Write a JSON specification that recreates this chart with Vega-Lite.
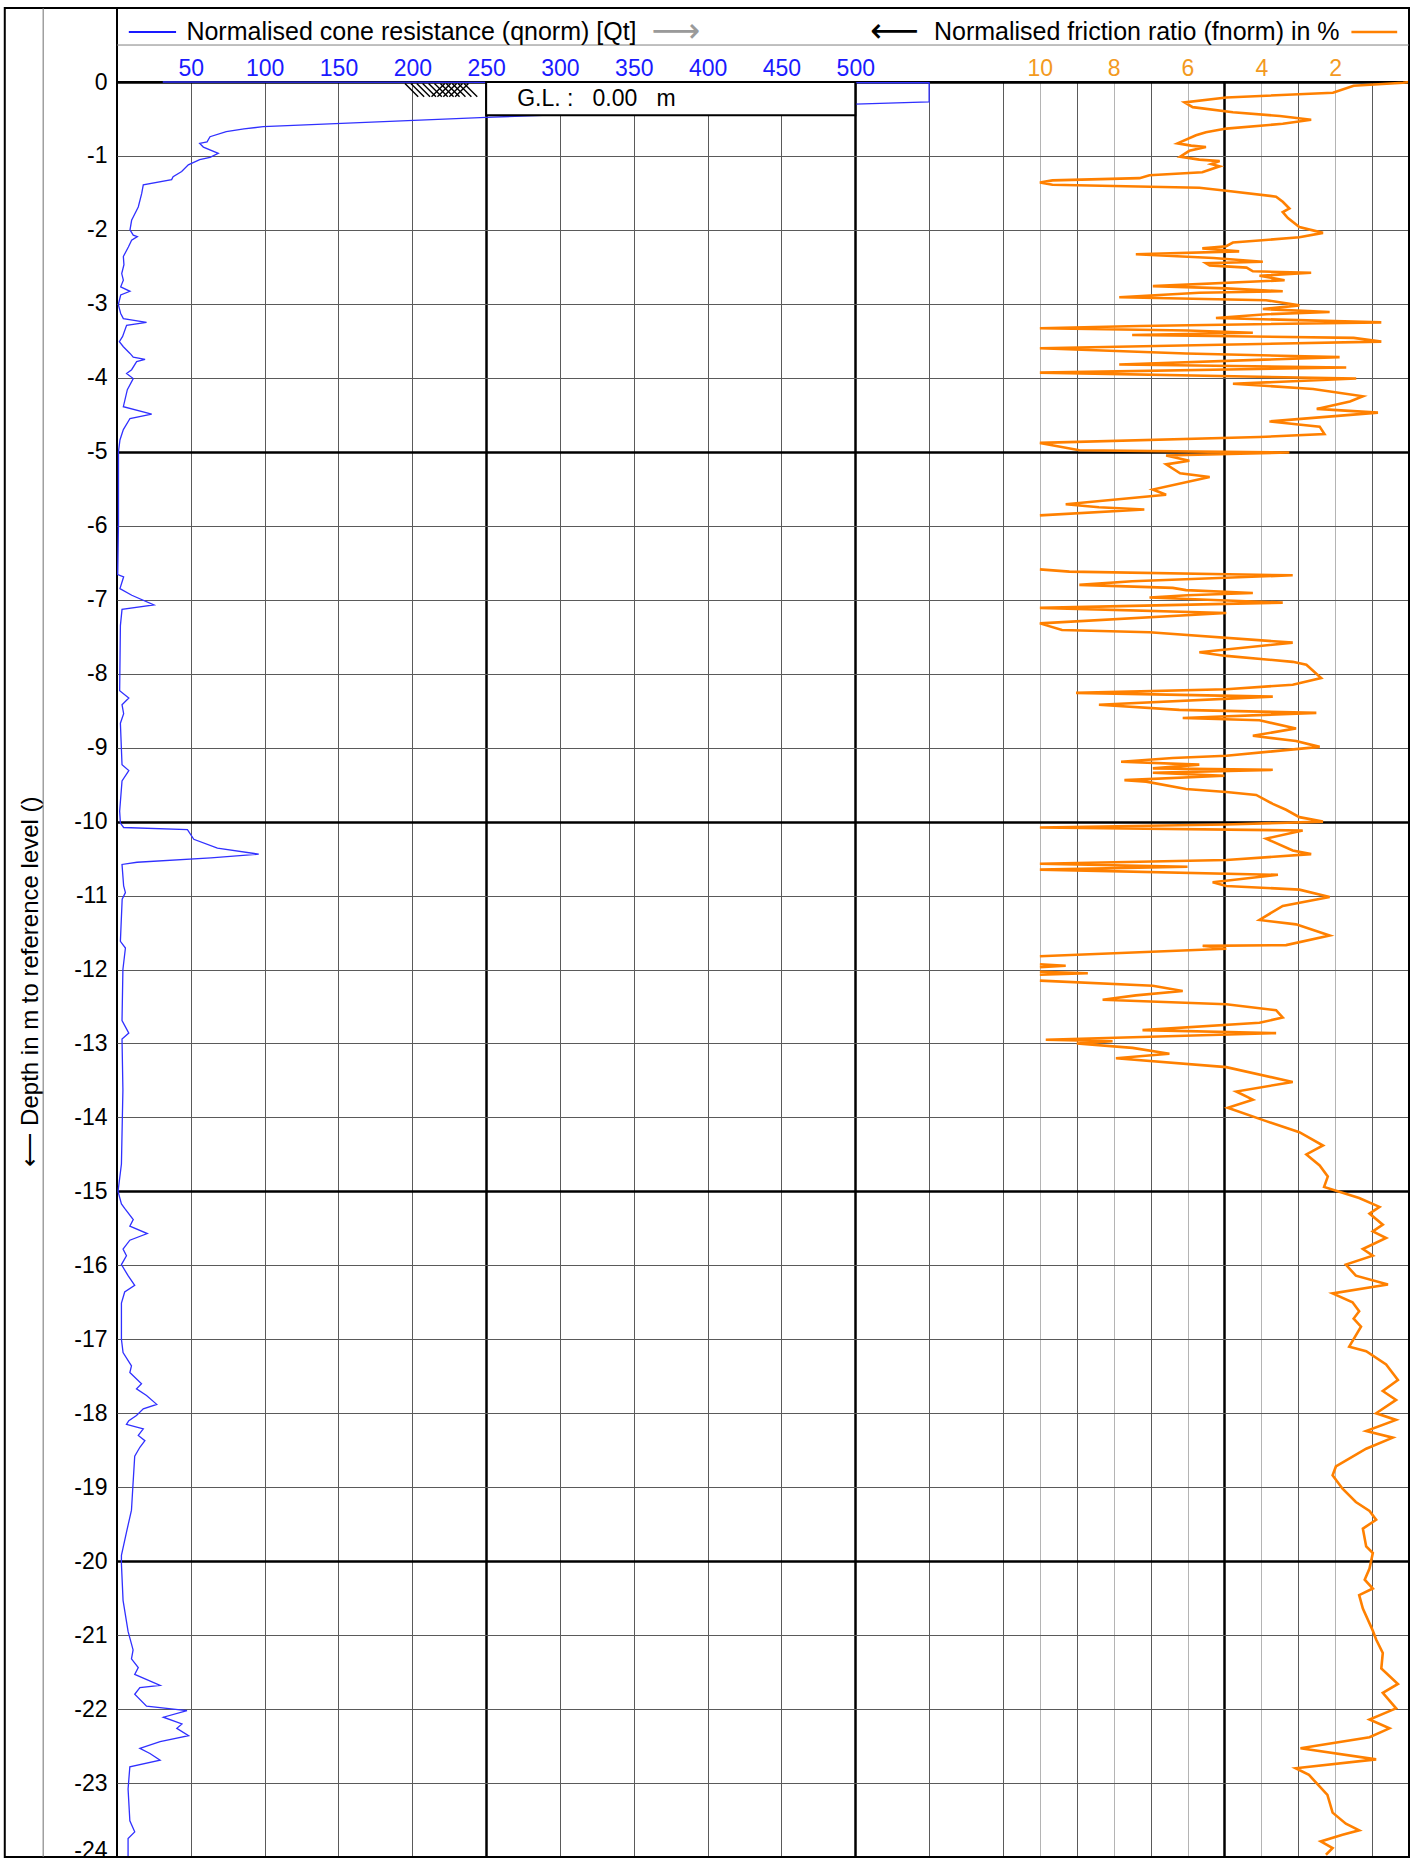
{
  "$schema": "https://vega.github.io/schema/vega-lite/v6.json",
  "width": 1292,
  "height": 1775,
  "autosize": {"type": "none"},
  "padding": {"left": 117, "top": 82, "right": 6, "bottom": 8},
  "background": "white",
  "config": {
    "view": {"stroke": "#000000", "strokeWidth": 2},
    "font": "Liberation Sans",
    "text": {"font": "Liberation Sans"}
  },
  "datasets": {
    "one": [{}],
    "cone": [
      {"d":0,"q":31},{"d":-0.01,"q":550},{"d":-0.27,"q":550},{"d":-0.30,"q":500},{"d":-0.478,"q":250},{"d":-0.604,"q":99},{"d":-0.635,"q":86},{"d":-0.67,"q":74},{"d":-0.74,"q":63},{"d":-0.81,"q":61},{"d":-0.83,"q":56},{"d":-0.88,"q":58.5},{"d":-0.964,"q":68.6},{"d":-1.02,"q":63},{"d":-1.05,"q":56},{"d":-1.12,"q":48.3},{"d":-1.21,"q":43.8},{"d":-1.28,"q":38},{"d":-1.32,"q":37},{"d":-1.39,"q":17.8},{"d":-1.51,"q":16.7},{"d":-1.69,"q":14.4},{"d":-1.87,"q":9.9},{"d":-2.0,"q":8.8},{"d":-2.07,"q":11},{"d":-2.09,"q":13.8},{"d":-2.14,"q":9.9},{"d":-2.23,"q":7.7},{"d":-2.36,"q":4.3},{"d":-2.47,"q":4.7},{"d":-2.59,"q":3.2},{"d":-2.68,"q":4.3},{"d":-2.77,"q":2.5},{"d":-2.83,"q":8.8},{"d":-2.88,"q":2.5},{"d":-3.01,"q":0.9},{"d":-3.13,"q":2.5},{"d":-3.20,"q":4.3},{"d":-3.25,"q":20},{"d":-3.29,"q":6.5},{"d":-3.44,"q":3.8},{"d":-3.51,"q":1.6},{"d":-3.58,"q":4.3},{"d":-3.67,"q":8.8},{"d":-3.72,"q":11},{"d":-3.75,"q":19},{"d":-3.78,"q":13.3},{"d":-3.89,"q":9.9},{"d":-3.94,"q":6.5},{"d":-4.01,"q":11},{"d":-4.16,"q":7},{"d":-4.39,"q":4.3},{"d":-4.49,"q":23.5},{"d":-4.55,"q":8.8},{"d":-4.70,"q":4.3},{"d":-4.84,"q":2},{"d":-5.0,"q":1},{"d":-5.97,"q":1},{"d":-6.66,"q":0.5},{"d":-6.69,"q":4.5},{"d":-6.85,"q":2},{"d":-6.94,"q":10},{"d":-7.07,"q":25},{"d":-7.13,"q":3.4},{"d":-7.35,"q":2.3},{"d":-8.23,"q":1.8},{"d":-8.33,"q":8},{"d":-8.42,"q":3.4},{"d":-8.54,"q":4.5},{"d":-8.67,"q":2.3},{"d":-9.23,"q":3.4},{"d":-9.31,"q":8},{"d":-9.45,"q":3.4},{"d":-9.86,"q":1.8},{"d":-10.02,"q":2.3},{"d":-10.08,"q":4.5},{"d":-10.11,"q":47.7},{"d":-10.24,"q":52},{"d":-10.36,"q":68},{"d":-10.44,"q":96},{"d":-10.49,"q":63.6},{"d":-10.55,"q":13.6},{"d":-10.58,"q":3.4},{"d":-10.87,"q":4.5},{"d":-10.96,"q":5.7},{"d":-11.05,"q":3.5},{"d":-11.62,"q":2.3},{"d":-11.71,"q":5.7},{"d":-12.0,"q":4},{"d":-12.69,"q":3.4},{"d":-12.86,"q":8},{"d":-12.94,"q":3.4},{"d":-13.63,"q":4},{"d":-14.63,"q":3},{"d":-15.0,"q":0.7},{"d":-15.17,"q":3},{"d":-15.23,"q":5.2},{"d":-15.38,"q":11},{"d":-15.47,"q":8.7},{"d":-15.57,"q":20.5},{"d":-15.66,"q":8.7},{"d":-15.78,"q":4.1},{"d":-15.87,"q":6.4},{"d":-15.99,"q":3},{"d":-16.14,"q":7.5},{"d":-16.27,"q":12},{"d":-16.36,"q":5.2},{"d":-16.51,"q":3},{"d":-17.0,"q":3},{"d":-17.18,"q":4.1},{"d":-17.36,"q":9.8},{"d":-17.45,"q":8.7},{"d":-17.6,"q":16.6},{"d":-17.67,"q":13.2},{"d":-17.76,"q":20},{"d":-17.88,"q":26.9},{"d":-17.94,"q":17.8},{"d":-18.03,"q":13.2},{"d":-18.1,"q":8},{"d":-18.15,"q":6.4},{"d":-18.21,"q":17.8},{"d":-18.3,"q":14.4},{"d":-18.37,"q":18.9},{"d":-18.46,"q":15.5},{"d":-18.58,"q":12},{"d":-18.94,"q":10.9},{"d":-19.31,"q":9.8},{"d":-19.61,"q":6.4},{"d":-19.92,"q":3},{"d":-20.04,"q":3},{"d":-20.53,"q":4.1},{"d":-20.95,"q":7.5},{"d":-21.2,"q":10.9},{"d":-21.32,"q":9.8},{"d":-21.44,"q":14.4},{"d":-21.53,"q":12},{"d":-21.68,"q":29.2},{"d":-21.71,"q":15.5},{"d":-21.8,"q":12},{"d":-21.96,"q":20},{"d":-22.02,"q":47.4},{"d":-22.11,"q":31.4},{"d":-22.2,"q":44},{"d":-22.26,"q":40.5},{"d":-22.36,"q":48.5},{"d":-22.44,"q":29.2},{"d":-22.53,"q":15.5},{"d":-22.6,"q":22.3},{"d":-22.69,"q":29.2},{"d":-22.78,"q":8.7},{"d":-23.08,"q":7.5},{"d":-23.51,"q":8.7},{"d":-23.66,"q":12},{"d":-23.75,"q":7.5},{"d":-24.0,"q":7.5}
    ],
    "fric": [
      {"d":0,"f":0,"s":"a"},{"d":-0.01,"f":0.16,"s":"a"},{"d":-0.05,"f":1.5,"s":"a"},{"d":-0.145,"f":2.06,"s":"a"},{"d":-0.21,"f":4.95,"s":"a"},{"d":-0.275,"f":6.08,"s":"a"},{"d":-0.34,"f":5.86,"s":"a"},{"d":-0.41,"f":4.77,"s":"a"},{"d":-0.46,"f":3.5,"s":"a"},{"d":-0.51,"f":2.65,"s":"a"},{"d":-0.565,"f":3.42,"s":"a"},{"d":-0.63,"f":4.95,"s":"a"},{"d":-0.68,"f":5.5,"s":"a"},{"d":-0.72,"f":5.77,"s":"a"},{"d":-0.83,"f":6.27,"s":"a"},{"d":-0.86,"f":5.9,"s":"a"},{"d":-0.88,"f":5.5,"s":"a"},{"d":-0.93,"f":5.95,"s":"a"},{"d":-1.01,"f":6.2,"s":"a"},{"d":-1.05,"f":5.68,"s":"a"},{"d":-1.07,"f":5.13,"s":"a"},{"d":-1.11,"f":5.36,"s":"a"},{"d":-1.14,"f":5.13,"s":"a"},{"d":-1.22,"f":5.6,"s":"a"},{"d":-1.26,"f":7.03,"s":"a"},{"d":-1.30,"f":7.3,"s":"a"},{"d":-1.33,"f":9.66,"s":"a"},{"d":-1.36,"f":10,"s":"a"},{"d":-1.39,"f":9.66,"s":"a"},{"d":-1.43,"f":5.68,"s":"a"},{"d":-1.47,"f":4.95,"s":"a"},{"d":-1.55,"f":3.6,"s":"a"},{"d":-1.62,"f":3.42,"s":"a"},{"d":-1.71,"f":3.24,"s":"a"},{"d":-1.76,"f":3.42,"s":"a"},{"d":-1.84,"f":3.28,"s":"a"},{"d":-1.96,"f":2.97,"s":"a"},{"d":-2.04,"f":2.33,"s":"a"},{"d":-2.10,"f":2.97,"s":"a"},{"d":-2.17,"f":4.77,"s":"a"},{"d":-2.22,"f":4.95,"s":"a"},{"d":-2.25,"f":5.6,"s":"a"},{"d":-2.29,"f":4.6,"s":"a"},{"d":-2.33,"f":7.4,"s":"a"},{"d":-2.38,"f":5.3,"s":"a"},{"d":-2.43,"f":3.96,"s":"a"},{"d":-2.45,"f":5.5,"s":"a"},{"d":-2.48,"f":5.4,"s":"a"},{"d":-2.51,"f":4.4,"s":"a"},{"d":-2.56,"f":4.23,"s":"a"},{"d":-2.58,"f":2.65,"s":"a"},{"d":-2.62,"f":4.05,"s":"a"},{"d":-2.68,"f":3.37,"s":"a"},{"d":-2.76,"f":6.94,"s":"a"},{"d":-2.79,"f":4.95,"s":"a"},{"d":-2.83,"f":3.42,"s":"a"},{"d":-2.85,"f":5.68,"s":"a"},{"d":-2.91,"f":7.85,"s":"a"},{"d":-2.95,"f":3.87,"s":"a"},{"d":-3.02,"f":2.97,"s":"a"},{"d":-3.07,"f":3.96,"s":"a"},{"d":-3.11,"f":2.15,"s":"a"},{"d":-3.14,"f":3.87,"s":"a"},{"d":-3.19,"f":5.23,"s":"a"},{"d":-3.25,"f":0.75,"s":"a"},{"d":-3.30,"f":7.3,"s":"a"},{"d":-3.33,"f":10,"s":"a"},{"d":-3.36,"f":6.0,"s":"a"},{"d":-3.39,"f":4.23,"s":"a"},{"d":-3.42,"f":7.5,"s":"a"},{"d":-3.46,"f":1.5,"s":"a"},{"d":-3.51,"f":0.75,"s":"a"},{"d":-3.60,"f":10,"s":"a"},{"d":-3.67,"f":6.04,"s":"a"},{"d":-3.72,"f":1.88,"s":"a"},{"d":-3.82,"f":7.85,"s":"a"},{"d":-3.86,"f":1.7,"s":"a"},{"d":-3.93,"f":10,"s":"a"},{"d":-4.01,"f":1.43,"s":"a"},{"d":-4.08,"f":4.77,"s":"a"},{"d":-4.15,"f":2.6,"s":"a"},{"d":-4.25,"f":1.25,"s":"a"},{"d":-4.32,"f":1.6,"s":"a"},{"d":-4.42,"f":2.5,"s":"a"},{"d":-4.47,"f":0.84,"s":"a"},{"d":-4.59,"f":3.78,"s":"a"},{"d":-4.66,"f":2.42,"s":"a"},{"d":-4.76,"f":2.29,"s":"a"},{"d":-4.80,"f":4.05,"s":"a"},{"d":-4.88,"f":10,"s":"a"},{"d":-4.98,"f":8.93,"s":"a"},{"d":-5.01,"f":3.24,"s":"a"},{"d":-5.05,"f":6.58,"s":"a"},{"d":-5.12,"f":5.95,"s":"a"},{"d":-5.17,"f":6.58,"s":"a"},{"d":-5.29,"f":6.2,"s":"a"},{"d":-5.34,"f":5.4,"s":"a"},{"d":-5.51,"f":6.94,"s":"a"},{"d":-5.58,"f":6.58,"s":"a"},{"d":-5.71,"f":9.3,"s":"a"},{"d":-5.75,"f":8.4,"s":"a"},{"d":-5.78,"f":7.17,"s":"a"},{"d":-5.86,"f":10,"s":"a"},
      {"d":-6.59,"f":10,"s":"b"},{"d":-6.62,"f":9.2,"s":"b"},{"d":-6.67,"f":3.15,"s":"b"},{"d":-6.75,"f":7.5,"s":"b"},{"d":-6.8,"f":8.93,"s":"b"},{"d":-6.84,"f":6.4,"s":"b"},{"d":-6.87,"f":6.04,"s":"b"},{"d":-6.91,"f":4.23,"s":"b"},{"d":-6.94,"f":6,"s":"b"},{"d":-6.97,"f":7.03,"s":"b"},{"d":-7.04,"f":3.42,"s":"b"},{"d":-7.11,"f":10,"s":"b"},{"d":-7.18,"f":4.95,"s":"b"},{"d":-7.32,"f":10,"s":"b"},{"d":-7.41,"f":9.4,"s":"b"},{"d":-7.44,"f":7.03,"s":"b"},{"d":-7.58,"f":3.15,"s":"b"},{"d":-7.71,"f":5.68,"s":"b"},{"d":-7.76,"f":4.95,"s":"b"},{"d":-7.84,"f":3.15,"s":"b"},{"d":-7.88,"f":2.78,"s":"b"},{"d":-8.06,"f":2.38,"s":"b"},{"d":-8.15,"f":3.15,"s":"b"},{"d":-8.21,"f":4.95,"s":"b"},{"d":-8.26,"f":9.02,"s":"b"},{"d":-8.31,"f":3.69,"s":"b"},{"d":-8.42,"f":8.4,"s":"b"},{"d":-8.49,"f":6.22,"s":"b"},{"d":-8.53,"f":2.51,"s":"b"},{"d":-8.60,"f":6.13,"s":"b"},{"d":-8.63,"f":4.05,"s":"b"},{"d":-8.74,"f":3.06,"s":"b"},{"d":-8.84,"f":4.23,"s":"b"},{"d":-8.91,"f":3.06,"s":"b"},{"d":-8.99,"f":2.42,"s":"b"},{"d":-9.11,"f":4.95,"s":"b"},{"d":-9.14,"f":6.4,"s":"b"},{"d":-9.19,"f":7.8,"s":"b"},{"d":-9.23,"f":5.68,"s":"b"},{"d":-9.28,"f":6.94,"s":"b"},{"d":-9.30,"f":3.69,"s":"b"},{"d":-9.34,"f":6.94,"s":"b"},{"d":-9.38,"f":5.0,"s":"b"},{"d":-9.44,"f":7.71,"s":"b"},{"d":-9.46,"f":7.12,"s":"b"},{"d":-9.56,"f":6.04,"s":"b"},{"d":-9.60,"f":4.95,"s":"b"},{"d":-9.64,"f":4.14,"s":"b"},{"d":-9.76,"f":3.69,"s":"b"},{"d":-9.84,"f":3.33,"s":"b"},{"d":-9.94,"f":2.97,"s":"b"},{"d":-10.0,"f":2.33,"s":"b"},{"d":-10.04,"f":4.95,"s":"b"},{"d":-10.08,"f":10,"s":"b"},{"d":-10.12,"f":2.88,"s":"b"},{"d":-10.23,"f":3.87,"s":"b"},{"d":-10.39,"f":3.15,"s":"b"},{"d":-10.44,"f":2.65,"s":"b"},{"d":-10.52,"f":4.95,"s":"b"},{"d":-10.57,"f":10,"s":"b"},{"d":-10.61,"f":6,"s":"b"},{"d":-10.65,"f":10,"s":"b"},{"d":-10.72,"f":3.55,"s":"b"},{"d":-10.82,"f":5.32,"s":"b"},{"d":-10.87,"f":4.95,"s":"b"},{"d":-10.92,"f":2.97,"s":"b"},{"d":-11.02,"f":2.15,"s":"b"},{"d":-11.14,"f":3.42,"s":"b"},{"d":-11.33,"f":4.05,"s":"b"},{"d":-11.39,"f":3.06,"s":"b"},{"d":-11.54,"f":2.15,"s":"b"},{"d":-11.67,"f":3.33,"s":"b"},{"d":-11.68,"f":5.59,"s":"b"},{"d":-11.72,"f":4.95,"s":"b"},{"d":-11.82,"f":10,"s":"b"},
      {"d":-11.93,"f":10,"s":"c"},{"d":-11.95,"f":9.3,"s":"c"},{"d":-11.97,"f":10,"s":"c"},
      {"d":-12.03,"f":10,"s":"d"},{"d":-12.05,"f":8.7,"s":"d"},{"d":-12.07,"f":10,"s":"d"},
      {"d":-12.15,"f":10,"s":"e"},{"d":-12.22,"f":6.94,"s":"e"},{"d":-12.29,"f":6.13,"s":"e"},{"d":-12.35,"f":7.4,"s":"e"},{"d":-12.41,"f":8.3,"s":"e"},{"d":-12.47,"f":4.95,"s":"e"},{"d":-12.55,"f":3.6,"s":"e"},{"d":-12.65,"f":3.42,"s":"e"},{"d":-12.72,"f":4.05,"s":"e"},{"d":-12.82,"f":7.22,"s":"e"},{"d":-12.86,"f":3.6,"s":"e"},{"d":-12.95,"f":9.84,"s":"e"},{"d":-12.97,"f":8.03,"s":"e"},{"d":-13.0,"f":9.0,"s":"e"},{"d":-13.06,"f":7.49,"s":"e"},{"d":-13.14,"f":6.49,"s":"e"},{"d":-13.2,"f":7.94,"s":"e"},{"d":-13.32,"f":4.95,"s":"e"},{"d":-13.52,"f":3.15,"s":"e"},{"d":-13.65,"f":4.68,"s":"e"},{"d":-13.76,"f":4.23,"s":"e"},{"d":-13.87,"f":4.91,"s":"e"},{"d":-14.05,"f":3.87,"s":"e"},{"d":-14.2,"f":2.97,"s":"e"},{"d":-14.38,"f":2.33,"s":"e"},{"d":-14.5,"f":2.78,"s":"e"},{"d":-14.65,"f":2.42,"s":"e"},{"d":-14.8,"f":2.2,"s":"e"},{"d":-14.94,"f":2.3,"s":"e"},{"d":-15.09,"f":1.35,"s":"e"},{"d":-15.21,"f":0.8,"s":"e"},{"d":-15.3,"f":1.07,"s":"e"},{"d":-15.45,"f":0.71,"s":"e"},{"d":-15.54,"f":0.98,"s":"e"},{"d":-15.63,"f":0.62,"s":"e"},{"d":-15.78,"f":1.25,"s":"e"},{"d":-15.87,"f":0.98,"s":"e"},{"d":-15.99,"f":1.71,"s":"e"},{"d":-16.14,"f":1.44,"s":"e"},{"d":-16.26,"f":0.57,"s":"e"},{"d":-16.38,"f":2.07,"s":"e"},{"d":-16.5,"f":1.53,"s":"e"},{"d":-16.62,"f":1.35,"s":"e"},{"d":-16.72,"f":1.5,"s":"e"},{"d":-16.83,"f":1.3,"s":"e"},{"d":-17.1,"f":1.62,"s":"e"},{"d":-17.16,"f":1.16,"s":"e"},{"d":-17.34,"f":0.62,"s":"e"},{"d":-17.55,"f":0.3,"s":"e"},{"d":-17.7,"f":0.71,"s":"e"},{"d":-17.82,"f":0.35,"s":"e"},{"d":-18.0,"f":0.89,"s":"e"},{"d":-18.09,"f":0.35,"s":"e"},{"d":-18.24,"f":1.16,"s":"e"},{"d":-18.33,"f":0.44,"s":"e"},{"d":-18.48,"f":1.16,"s":"e"},{"d":-18.72,"f":1.98,"s":"e"},{"d":-18.84,"f":2.07,"s":"e"},{"d":-19.02,"f":1.8,"s":"e"},{"d":-19.2,"f":1.44,"s":"e"},{"d":-19.32,"f":1.07,"s":"e"},{"d":-19.44,"f":0.89,"s":"e"},{"d":-19.56,"f":1.25,"s":"e"},{"d":-19.8,"f":1.16,"s":"e"},{"d":-19.89,"f":0.98,"s":"e"},{"d":-20.1,"f":1.07,"s":"e"},{"d":-20.25,"f":1.2,"s":"e"},{"d":-20.37,"f":0.98,"s":"e"},{"d":-20.46,"f":1.35,"s":"e"},{"d":-20.64,"f":1.25,"s":"e"},{"d":-20.94,"f":0.98,"s":"e"},{"d":-21.06,"f":0.89,"s":"e"},{"d":-21.24,"f":0.71,"s":"e"},{"d":-21.45,"f":0.75,"s":"e"},{"d":-21.66,"f":0.3,"s":"e"},{"d":-21.78,"f":0.71,"s":"e"},{"d":-21.99,"f":0.35,"s":"e"},{"d":-22.14,"f":1.07,"s":"e"},{"d":-22.26,"f":0.53,"s":"e"},{"d":-22.38,"f":1.07,"s":"e"},{"d":-22.53,"f":2.94,"s":"e"},{"d":-22.68,"f":0.89,"s":"e"},{"d":-22.8,"f":3.07,"s":"e"},{"d":-22.89,"f":2.71,"s":"e"},{"d":-23.16,"f":2.21,"s":"e"},{"d":-23.4,"f":2.07,"s":"e"},{"d":-23.55,"f":1.71,"s":"e"},{"d":-23.64,"f":1.35,"s":"e"},{"d":-23.7,"f":1.8,"s":"e"},{"d":-23.79,"f":2.39,"s":"e"},{"d":-23.88,"f":2.07,"s":"e"},{"d":-23.97,"f":2.25,"s":"e"}
    ],
    "hatch": [
      {"a":195,"b":204},{"a":199,"b":208},{"a":203,"b":212},{"a":207,"b":216},{"a":211,"b":220},{"a":215,"b":224},{"a":219,"b":228},{"a":223,"b":232},{"a":227,"b":236},{"a":231,"b":240},{"a":235,"b":244},
      {"a":222,"b":213},{"a":226,"b":217},{"a":230,"b":221},{"a":234,"b":225},{"a":238,"b":229}
    ]
  },
  "layer": [
    {
      "data": {"name": "cone"},
      "mark": {"type": "line", "color": "#3030ff", "strokeWidth": 1.3},
      "encoding": {
        "x": {
          "field": "q", "type": "quantitative",
          "scale": {"domain": [0, 875], "nice": false, "zero": false},
          "axis": {
            "orient": "top", "title": null,
            "values": [50,100,150,200,250,300,350,400,450,500,550,600,650,700,750,800,850],
            "labelExpr": "datum.value <= 500 ? datum.label : ''",
            "grid": true,
            "gridColor": {"condition": {"test": "datum.value % 250 === 0", "value": "#000000"}, "value": "#5a5a5a"},
            "gridWidth": {"condition": {"test": "datum.value % 250 === 0", "value": 2.5}, "value": 1},
            "ticks": false, "tickSize": 0, "domain": false,
            "labelColor": "#1a1aff", "labelFont": "Liberation Sans", "labelFontSize": 23,
            "labelPadding": 14, "labelBaseline": "middle", "labelFlush": false, "labelOverlap": false, "labelBound": false
          }
        },
        "y": {
          "field": "d", "type": "quantitative",
          "scale": {"domain": [-24, 0], "nice": false, "zero": false},
          "axis": {
            "orient": "left",
            "values": [0,-1,-2,-3,-4,-5,-6,-7,-8,-9,-10,-11,-12,-13,-14,-15,-16,-17,-18,-19,-20,-21,-22,-23,-24],
            "labelExpr": "datum.value == 0 ? '0' : '-' + abs(datum.value)",
            "grid": true,
            "gridColor": {"condition": {"test": "datum.value % 5 === 0", "value": "#000000"}, "value": "#5a5a5a"},
            "gridWidth": {"condition": {"test": "datum.value % 5 === 0", "value": 2.5}, "value": 1},
            "ticks": false, "tickSize": 0, "domain": false,
            "labelColor": "#000000", "labelFont": "Liberation Sans", "labelFontSize": 23,
            "labelBaseline": {"condition": {"test": "datum.value === -24", "value": "alphabetic"}, "value": "middle"},
            "labelPadding": 10, "labelOverlap": false, "labelFlush": false, "labelBound": false,
            "title": "⟵  Depth in m to reference level ()",
            "titleX": -87, "titleY": 899, "titleAngle": -90, "titleAlign": "center", "titleBaseline": "middle",
            "titleFont": "Liberation Sans", "titleFontSize": 24, "titleFontWeight": "normal", "titleColor": "#000000"
          }
        },
        "order": {"field": "d", "sort": "descending"}
      }
    },
    {
      "data": {"name": "fric"},
      "mark": {"type": "line", "color": "#ff8000", "strokeWidth": 2.6},
      "encoding": {
        "x": {
          "field": "f", "type": "quantitative",
          "scale": {"domain": [35, 0], "nice": false, "zero": false},
          "axis": {
            "orient": "top", "title": null,
            "values": [2,4,6,8,10],
            "grid": true, "gridColor": "#b4b4b4", "gridWidth": 1,
            "ticks": false, "tickSize": 0, "domain": false,
            "labelColor": "#f39a1e", "labelFont": "Liberation Sans", "labelFontSize": 23,
            "labelPadding": 14, "labelBaseline": "middle", "labelFlush": false, "labelOverlap": false, "labelBound": false
          }
        },
        "y": {"field": "d", "type": "quantitative", "scale": {"domain": [-24, 0], "nice": false, "zero": false}, "axis": null},
        "detail": {"field": "s"},
        "order": {"field": "d", "sort": "descending"}
      }
    },
    {
      "data": {"name": "one"},
      "mark": {"type": "rect", "filled": false, "stroke": "#000000", "strokeWidth": 2},
      "encoding": {
        "x": {"datum": -76, "type": "quantitative", "scale": {"domain": [0, 875], "nice": false, "zero": false}, "axis": null},
        "x2": {"datum": 875},
        "y": {"datum": 1, "type": "quantitative", "scale": {"domain": [-24, 0], "nice": false, "zero": false}, "axis": null},
        "y2": {"datum": -24}
      }
    },
    {
      "data": {"name": "one"},
      "mark": {"type": "rule", "color": "#707070", "strokeWidth": 1},
      "encoding": {
        "x": {"datum": -50, "type": "quantitative", "scale": {"domain": [0, 875], "nice": false, "zero": false}, "axis": null},
        "y": {"datum": 1, "type": "quantitative", "scale": {"domain": [-24, 0], "nice": false, "zero": false}, "axis": null},
        "y2": {"datum": -24}
      }
    },
    {
      "data": {"name": "one"},
      "mark": {"type": "rule", "color": "#000000", "strokeWidth": 2},
      "encoding": {
        "x": {"datum": 0, "type": "quantitative", "scale": {"domain": [0, 875], "nice": false, "zero": false}, "axis": null},
        "y": {"datum": 1, "type": "quantitative", "scale": {"domain": [-24, 0], "nice": false, "zero": false}, "axis": null},
        "y2": {"datum": 0}
      }
    },
    {
      "data": {"name": "one"},
      "mark": {"type": "rule", "color": "#808080", "strokeWidth": 1},
      "encoding": {
        "x": {"datum": 0, "type": "quantitative", "scale": {"domain": [0, 875], "nice": false, "zero": false}, "axis": null},
        "x2": {"datum": 875},
        "y": {"datum": 0.5, "type": "quantitative", "scale": {"domain": [-24, 0], "nice": false, "zero": false}, "axis": null}
      }
    },
    {
      "data": {"name": "one"},
      "mark": {"type": "rect", "fill": "#ffffff", "stroke": "#000000", "strokeWidth": 2},
      "encoding": {
        "x": {"datum": 250, "type": "quantitative", "scale": {"domain": [0, 875], "nice": false, "zero": false}, "axis": null},
        "x2": {"datum": 500},
        "y": {"datum": 0, "type": "quantitative", "scale": {"domain": [-24, 0], "nice": false, "zero": false}, "axis": null},
        "y2": {"datum": -0.45}
      }
    },
    {
      "data": {"name": "one"},
      "mark": {"type": "text", "text": "G.L. :\u00a0\u00a0\u00a00.00\u00a0\u00a0\u00a0m", "align": "left", "baseline": "middle", "fontSize": 23, "font": "Liberation Sans", "color": "#000000"},
      "encoding": {
        "x": {"datum": 271, "type": "quantitative", "scale": {"domain": [0, 875], "nice": false, "zero": false}, "axis": null},
        "y": {"datum": -0.23, "type": "quantitative", "scale": {"domain": [-24, 0], "nice": false, "zero": false}, "axis": null}
      }
    },
    {
      "data": {"name": "hatch"},
      "mark": {"type": "rule", "color": "#000000", "strokeWidth": 1.4},
      "encoding": {
        "x": {"field": "a", "type": "quantitative", "scale": {"domain": [0, 875], "nice": false, "zero": false}, "axis": null},
        "x2": {"field": "b"},
        "y": {"datum": -0.02, "type": "quantitative", "scale": {"domain": [-24, 0], "nice": false, "zero": false}, "axis": null},
        "y2": {"datum": -0.2}
      }
    },
    {
      "data": {"name": "one"},
      "mark": {"type": "rule", "color": "#1a1aff", "strokeWidth": 2},
      "encoding": {
        "x": {"datum": 8, "type": "quantitative", "scale": {"domain": [0, 875], "nice": false, "zero": false}, "axis": null},
        "x2": {"datum": 40},
        "y": {"datum": 0.676, "type": "quantitative", "scale": {"domain": [-24, 0], "nice": false, "zero": false}, "axis": null}
      }
    },
    {
      "data": {"name": "one"},
      "mark": {"type": "text", "text": "Normalised cone resistance (qnorm) [Qt]", "align": "left", "baseline": "middle", "fontSize": 25, "font": "Liberation Sans", "color": "#000000"},
      "encoding": {
        "x": {"datum": 47, "type": "quantitative", "scale": {"domain": [0, 875], "nice": false, "zero": false}, "axis": null},
        "y": {"datum": 0.676, "type": "quantitative", "scale": {"domain": [-24, 0], "nice": false, "zero": false}, "axis": null}
      }
    },
    {
      "data": {"name": "one"},
      "mark": {"type": "text", "text": "⟶", "align": "left", "baseline": "middle", "fontSize": 34, "font": "DejaVu Sans", "color": "#9a9a9a"},
      "encoding": {
        "x": {"datum": 362, "type": "quantitative", "scale": {"domain": [0, 875], "nice": false, "zero": false}, "axis": null},
        "y": {"datum": 0.676, "type": "quantitative", "scale": {"domain": [-24, 0], "nice": false, "zero": false}, "axis": null}
      }
    },
    {
      "data": {"name": "one"},
      "mark": {"type": "text", "text": "⟵", "align": "left", "baseline": "middle", "fontSize": 34, "font": "DejaVu Sans", "color": "#000000"},
      "encoding": {
        "x": {"datum": 510, "type": "quantitative", "scale": {"domain": [0, 875], "nice": false, "zero": false}, "axis": null},
        "y": {"datum": 0.676, "type": "quantitative", "scale": {"domain": [-24, 0], "nice": false, "zero": false}, "axis": null}
      }
    },
    {
      "data": {"name": "one"},
      "mark": {"type": "text", "text": "Normalised friction ratio (fnorm) in %", "align": "right", "baseline": "middle", "fontSize": 25, "font": "Liberation Sans", "color": "#000000"},
      "encoding": {
        "x": {"datum": 828, "type": "quantitative", "scale": {"domain": [0, 875], "nice": false, "zero": false}, "axis": null},
        "y": {"datum": 0.676, "type": "quantitative", "scale": {"domain": [-24, 0], "nice": false, "zero": false}, "axis": null}
      }
    },
    {
      "data": {"name": "one"},
      "mark": {"type": "rule", "color": "#ff8000", "strokeWidth": 2.5},
      "encoding": {
        "x": {"datum": 836, "type": "quantitative", "scale": {"domain": [0, 875], "nice": false, "zero": false}, "axis": null},
        "x2": {"datum": 867},
        "y": {"datum": 0.676, "type": "quantitative", "scale": {"domain": [-24, 0], "nice": false, "zero": false}, "axis": null}
      }
    }
  ],
  "resolve": {
    "scale": {"x": "independent", "y": "independent"},
    "axis": {"x": "independent", "y": "independent"}
  }
}
